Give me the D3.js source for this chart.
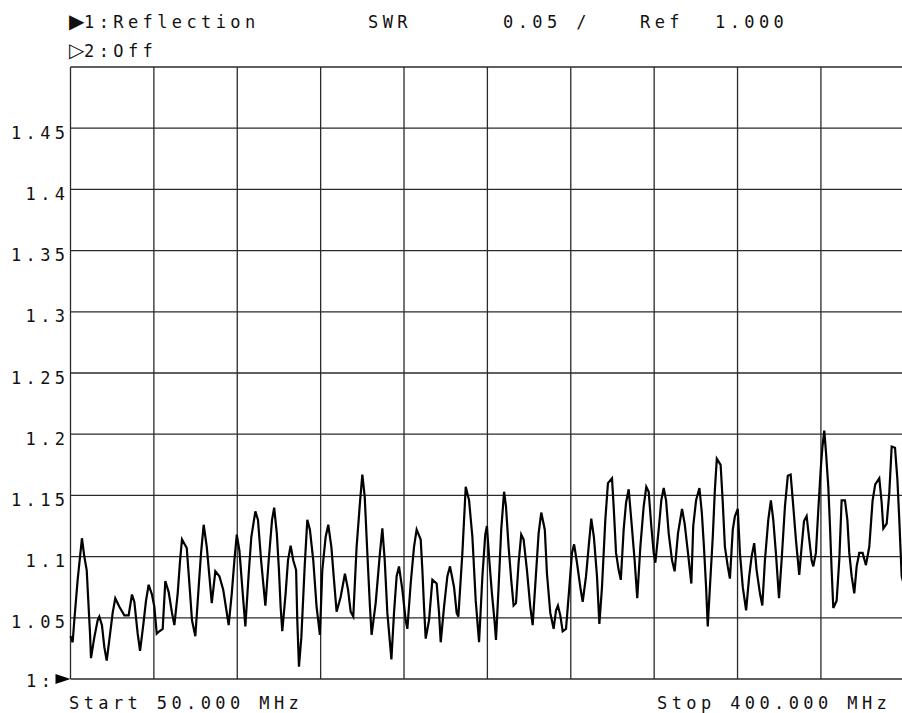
<!DOCTYPE html>
<html>
<head>
<meta charset="utf-8">
<script src="https://cdn.jsdelivr.net/npm/d3@7"></script>
<style>
  html, body { margin: 0; padding: 0; background: #fff; }
  svg { display: block; }
  text { font-family: "DejaVu Sans Mono", monospace; font-size: 17px; fill: #111; letter-spacing: 4.4px; }
  text.mark { font-family: "DejaVu Sans", sans-serif; font-size: 20px; letter-spacing: 0; }
</style>
</head>
<body>
<svg id="chart" width="902" height="713"></svg>
<script>
// Sweep: 50 MHz to 400 MHz, SWR reflection trace (channel 1)
const freqMHz = [
  50.0, 50.9, 51.6, 53.0, 54.8, 55.8, 56.8, 57.6, 58.2, 58.6, 60.0, 61.4, 62.1, 63.2, 64.2, 65.2,
  66.3, 67.7, 68.8, 70.5, 72.6, 74.4, 75.8, 76.8, 78.2, 79.2, 80.6, 81.7, 82.8, 84.2, 85.2, 86.2,
  87.3, 88.7, 89.8, 91.2, 92.6, 93.6, 95.0, 96.0, 96.8, 98.8, 99.9, 101.0, 102.4, 103.8, 104.8, 105.9,
  107.2, 108.3, 109.3, 110.8, 112.5, 114.1, 115.3, 116.4, 117.7, 118.8, 119.8, 120.9, 122.3, 123.4, 124.8, 125.9,
  127.6, 128.7, 130.0, 131.8, 133.2, 134.6, 135.5,
  136.6, 137.5, 138.2, 138.9, 140.3, 141.3, 142.4, 143.5, 144.7, 145.2, 145.9, 146.9, 148.3, 149.4, 150.5, 151.9,
  153.3, 154.7, 155.7, 157.1, 158.2, 159.5, 160.6, 161.7, 163.4, 165.2, 166.5, 167.6, 168.7, 170.1, 171.5, 172.5,
  173.5, 174.6, 175.7, 176.4, 178.1, 179.9, 180.9, 181.9, 183.0, 184.4, 184.7, 185.8, 186.9, 187.9, 189.3, 190.7,
  191.4, 192.8, 194.2, 195.3, 197.0, 197.7, 198.4, 199.1, 200.5, 201.9, 203.7, 204.7, 205.4, 206.8, 208.2, 209.3,
  211.0, 212.1, 212.8, 214.5, 215.9, 217.3, 218.7, 220.1, 221.5, 222.9,
  224.1, 224.8, 225.8, 226.9, 228.1, 228.6, 229.7, 230.8, 232.0, 232.8, 233.9, 235.0, 236.0, 237.0, 238.1, 239.2,
  240.2, 241.6, 243.0, 244.0, 245.4, 246.5, 247.6, 249.1, 250.0, 251.4, 252.8, 253.8, 254.6, 255.6, 256.6, 258.0,
  259.4, 260.5, 261.4, 262.6, 264.0, 265.0, 266.4, 267.5, 268.6, 269.7, 271.0, 272.0, 273.1, 274.5, 275.6, 277.3,
  278.0, 279.0, 280.1, 281.0, 282.2, 283.2, 284.3, 285.4, 286.8, 287.9, 289.2, 290.6, 291.7, 292.7, 293.8, 294.8,
  295.5, 296.9, 298.0, 299.0, 300.0, 301.1, 302.5, 303.6, 305.0, 306.7, 307.8, 309.2, 310.6,
  311.4, 312.6, 314.0, 315.0, 315.9, 316.8, 317.5, 318.4, 319.6, 320.5, 321.3, 322.9, 323.8, 324.7, 325.9, 326.8,
  328.0, 328.9, 330.1, 331.0, 332.2, 333.6, 334.9, 335.9, 337.0, 338.0, 339.4, 340.4, 341.5, 342.9, 344.0, 345.0,
  346.1, 347.4, 348.5, 349.9, 351.1, 352.3, 353.4, 354.5, 355.9, 356.9, 357.9, 359.0, 360.1, 361.1, 361.8, 362.9,
  363.9, 364.9, 365.6, 366.4, 367.1, 368.1, 368.8, 369.5, 370.2, 371.6, 372.7, 373.7, 375.1, 376.1, 376.9, 377.9,
  379.0, 380.0, 381.1, 382.5, 383.9, 385.3, 386.7, 387.8, 389.5, 390.5, 391.2, 392.6, 393.7, 394.7, 396.1, 397.1,
  397.9, 398.9, 400.0
];
const swrValues = [
  1.035, 1.030, 1.048, 1.081, 1.115, 1.100, 1.089, 1.059, 1.037, 1.017, 1.034, 1.048, 1.051, 1.044, 1.026, 1.015,
  1.032, 1.054, 1.066, 1.059, 1.052, 1.052, 1.069, 1.063, 1.037, 1.023, 1.045, 1.064, 1.077, 1.069, 1.059, 1.037,
  1.039, 1.041, 1.080, 1.071, 1.054, 1.044, 1.070, 1.097, 1.114, 1.107, 1.078, 1.048, 1.035, 1.075, 1.103, 1.126,
  1.108, 1.084, 1.062, 1.088, 1.084, 1.073, 1.058, 1.044, 1.070, 1.097, 1.118, 1.105, 1.070, 1.043, 1.086, 1.116,
  1.137, 1.130, 1.097, 1.060, 1.097, 1.130, 1.140,
  1.119, 1.089, 1.059, 1.039, 1.070, 1.097, 1.109, 1.097, 1.089, 1.048, 1.010, 1.034, 1.092, 1.130, 1.122, 1.097,
  1.059, 1.036, 1.089, 1.116, 1.126, 1.108, 1.081, 1.055, 1.067, 1.086, 1.073, 1.055, 1.051, 1.108, 1.144, 1.167,
  1.149, 1.103, 1.059, 1.036, 1.062, 1.103, 1.123, 1.097, 1.054, 1.023, 1.016, 1.054, 1.084, 1.092, 1.073, 1.048,
  1.041, 1.078, 1.108, 1.122, 1.114, 1.089, 1.059, 1.033, 1.048, 1.081, 1.078, 1.054, 1.030, 1.059, 1.084, 1.092,
  1.075, 1.054, 1.051, 1.103, 1.157, 1.146, 1.116, 1.064, 1.030, 1.084,
  1.118, 1.125, 1.097, 1.070, 1.045, 1.032, 1.075, 1.122, 1.153, 1.141, 1.108, 1.081, 1.060, 1.062, 1.095, 1.118,
  1.114, 1.089, 1.059, 1.044, 1.086, 1.119, 1.136, 1.122, 1.086, 1.054, 1.041, 1.056, 1.060, 1.052, 1.039, 1.041,
  1.075, 1.103, 1.110, 1.095, 1.075, 1.063, 1.084, 1.108, 1.131, 1.116, 1.084, 1.045, 1.075, 1.130, 1.160, 1.164,
  1.141, 1.103, 1.089, 1.081, 1.122, 1.144, 1.155, 1.130, 1.097, 1.066, 1.108, 1.141, 1.157, 1.153, 1.125, 1.103,
  1.095, 1.122, 1.146, 1.156, 1.146, 1.119, 1.097, 1.088, 1.119, 1.139, 1.127, 1.103, 1.078,
  1.125, 1.146, 1.156, 1.136, 1.108, 1.075, 1.043, 1.075, 1.116, 1.155, 1.180, 1.175, 1.144, 1.108, 1.092, 1.082,
  1.122, 1.133, 1.139, 1.103, 1.075, 1.056, 1.084, 1.100, 1.111, 1.089, 1.070, 1.060, 1.097, 1.130, 1.146, 1.130,
  1.103, 1.066, 1.097, 1.141, 1.166, 1.167, 1.141, 1.114, 1.085, 1.108, 1.129, 1.133, 1.114, 1.097, 1.092, 1.103,
  1.138, 1.171, 1.189, 1.203, 1.186, 1.157, 1.125, 1.089, 1.058, 1.064, 1.097, 1.146, 1.146, 1.130, 1.103, 1.084,
  1.070, 1.092, 1.103, 1.103, 1.093, 1.108, 1.146, 1.159, 1.164, 1.144, 1.123, 1.127, 1.152, 1.190, 1.189, 1.163,
  1.130, 1.084, 1.075
];

// Graticule: 10 divisions each way, 0.05 SWR per division from a 1.000 reference
const freqDivisions = d3.range(0, 11).map(i => 50 + i * 35);
const swrDivisions = d3.range(0, 11).map(i => +(1 + i * 0.05).toFixed(2));
const swrTickLabels = ["1.45", "1.4", "1.35", "1.3", "1.25", "1.2", "1.15", "1.1", "1.05"];
const swrTickValues = [1.45, 1.4, 1.35, 1.3, 1.25, 1.2, 1.15, 1.1, 1.05];

const svg = d3.select("#chart");
const x = d3.scaleLinear().domain([50, 400]).range([70.5, 904.3]);
const y = d3.scaleLinear().domain([1.0, 1.5]).range([679, 67]);

const grid = svg.append("g").attr("stroke", "#2a2a2a").attr("stroke-width", 1.3).attr("fill", "none");
grid.selectAll("line.v").data(freqDivisions).join("line")
  .attr("class", "v")
  .attr("x1", d => x(d)).attr("x2", d => x(d))
  .attr("y1", y(1.5)).attr("y2", y(1.0));
grid.selectAll("line.h").data(swrDivisions).join("line")
  .attr("class", "h")
  .attr("x1", x(50)).attr("x2", x(400))
  .attr("y1", d => y(d)).attr("y2", d => y(d));

// Measurement trace
const trace = d3.line()
  .x((d, i) => x(freqMHz[i]))
  .y(d => y(d));
svg.append("path")
  .datum(swrValues)
  .attr("d", trace)
  .attr("fill", "none")
  .attr("stroke", "#000")
  .attr("stroke-width", 2.2)
  .attr("stroke-linejoin", "miter");

// Scale labels, right-aligned against the left edge of the graticule
svg.append("g").selectAll("text").data(swrTickValues).join("text")
  .attr("x", x(50) - 1)
  .attr("y", d => y(d) + 10.5)
  .attr("text-anchor", "end")
  .text((d, i) => swrTickLabels[i]);

// Reference position marker
svg.append("text").attr("x", 26).attr("y", 687).text("1:");
svg.append("path")
  .attr("d", d3.line()([[x(50) - 15, y(1.0) - 5], [x(50), y(1.0)], [x(50) - 15, y(1.0) + 5]]) + "Z")
  .attr("fill", "#000");

// Channel annotation rows
const headerRow1 = [
  { text: "1:Reflection", x: 84 },
  { text: "SWR", x: 368 },
  { text: "0.05 /", x: 503 },
  { text: "Ref", x: 640 },
  { text: "1.000", x: 715 }
];
svg.append("g").selectAll("text").data(headerRow1).join("text")
  .attr("x", d => d.x).attr("y", 28).text(d => d.text);
svg.append("text").attr("class", "mark").attr("x", 69).attr("y", 28).text("▶");
svg.append("text").attr("class", "mark").attr("x", 69).attr("y", 57).text("▷");
svg.append("text").attr("x", 84).attr("y", 57).text("2:Off");

// Sweep limits
svg.append("text").attr("x", 69).attr("y", 709).text("Start 50.000 MHz");
svg.append("text").attr("x", 657).attr("y", 709).text("Stop 400.000 MHz");
</script>
</body>
</html>
